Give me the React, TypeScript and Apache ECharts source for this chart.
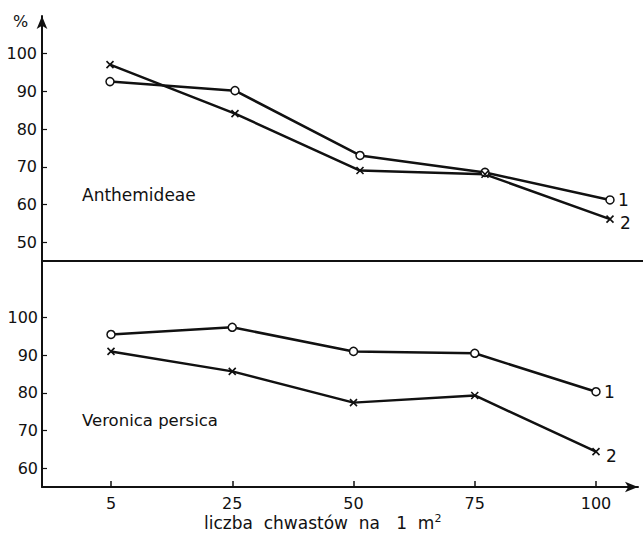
import React, { useEffect, useRef } from "react";
import * as echarts from "echarts";

const categories = ["5", "25", "50", "75", "100"];
const anthemideae1 = [92.6, 90.2, 73.0, 68.5, 61.2];
const anthemideae2 = [97.1, 84.1, 69.0, 68.0, 56.1];
const veronica1 = [95.5, 97.4, 91.0, 90.5, 80.3];
const veronica2 = [91.0, 85.7, 77.4, 79.3, 64.4];
const topTicks = [50, 60, 70, 80, 90, 100];
const bottomTicks = [60, 70, 80, 90, 100];

const FONT = "DejaVu Sans";
const CROSS = "path://M0,0L10,10M10,0L0,10";

export default function App() {
  const ref = useRef<HTMLDivElement>(null);
  useEffect(() => {
    if (!ref.current) return;
    const chart = echarts.init(ref.current, null, { renderer: "svg" });
    const axisLine = { lineStyle: { color: "#111", width: 2 } };
    const lbl = { color: "#111", fontSize: 16, fontFamily: FONT };
    const circleSeries = (data: number[], xi: number, yi: number, name: string) => ({
      type: "line",
      xAxisIndex: xi,
      yAxisIndex: yi,
      data,
      symbol: "circle",
      symbolSize: 8,
      lineStyle: { color: "#111", width: 2.5 },
      itemStyle: { color: "#fff", borderColor: "#111", borderWidth: 1.5 },
      endLabel: { show: true, formatter: name, color: "#111", fontSize: 17, fontFamily: FONT, distance: 8 },
      z: 3,
    });
    const crossSeries = (data: number[], xi: number, yi: number, name: string) => ({
      type: "line",
      xAxisIndex: xi,
      yAxisIndex: yi,
      data,
      symbol: CROSS,
      symbolSize: 7,
      lineStyle: { color: "#111", width: 2.5 },
      itemStyle: { color: "#111", borderColor: "#111", borderWidth: 1.6 },
      endLabel: { show: true, formatter: name, color: "#111", fontSize: 17, fontFamily: FONT, distance: 10, offset: [0, 4] },
      z: 3,
    });
    chart.setOption({
      animation: false,
      backgroundColor: "#fff",
      grid: [
        { left: 42, top: 16, right: 0, height: 245, outerBoundsMode: "none" },
        { left: 42, top: 261, width: 596, height: 226, outerBoundsMode: "none" },
        { left: 110, top: 16, width: 500, height: 245, outerBoundsMode: "none" },
        { left: 111, top: 261, width: 485, height: 226, outerBoundsMode: "none" },
      ],
      xAxis: [
        { gridIndex: 0, type: "value", min: 0, max: 1, axisLine: axisLine, axisTick: { show: false }, axisLabel: { show: false }, splitLine: { show: false } },
        { gridIndex: 1, type: "value", min: 0, max: 1, axisLine: { ...axisLine, symbol: ["none", "arrow"], symbolSize: [8, 13] }, axisTick: { show: false }, axisLabel: { show: false }, splitLine: { show: false } },
        { gridIndex: 2, type: "category", data: categories, boundaryGap: false, show: false },
        {
          gridIndex: 3, type: "category", data: categories, boundaryGap: false,
          axisLine: { show: false },
          axisTick: { show: true, inside: true, length: 6, alignWithLabel: true, lineStyle: { color: "#111", width: 1.5 } },
          axisLabel: { ...lbl, margin: 8 },
        },
      ],
      yAxis: [
        {
          gridIndex: 0, type: "value", min: 45, max: 110,
          axisLine: { show: true, ...axisLine, symbol: ["none", "arrow"], symbolSize: [8, 13] },
          axisTick: { show: true, inside: true, length: 5, customValues: topTicks, lineStyle: { color: "#111", width: 1.2 } },
          axisLabel: { ...lbl, margin: 5, customValues: topTicks },
          splitLine: { show: false },
        },
        {
          gridIndex: 1, type: "value", min: 55, max: 115,
          axisLine: { show: true, ...axisLine },
          axisTick: { show: true, inside: true, length: 5, customValues: bottomTicks, lineStyle: { color: "#111", width: 1.2 } },
          axisLabel: { ...lbl, margin: 4, customValues: bottomTicks },
          splitLine: { show: false },
        },
        { gridIndex: 2, type: "value", min: 45, max: 110, show: false, splitLine: { show: false } },
        { gridIndex: 3, type: "value", min: 55, max: 115, show: false, splitLine: { show: false } },
      ],
      series: [
        circleSeries(anthemideae1, 2, 2, "1"),
        crossSeries(anthemideae2, 2, 2, "2"),
        circleSeries(veronica1, 3, 3, "1"),
        crossSeries(veronica2, 3, 3, "2"),
      ],
      graphic: [
        { type: "text", left: 13, top: 13, style: { text: "%", fill: "#111", font: `16px "${FONT}"` } },
        { type: "text", left: 82, top: 186, style: { text: "Anthemideae", fill: "#111", font: `17px "${FONT}"` } },
        { type: "text", left: 82, top: 412, style: { text: "Veronica persica", fill: "#111", font: `16.5px "${FONT}"` } },
        {
          type: "text", left: 204, top: 513,
          style: {
            text: "liczba  chwastów  na   1  m{sup|2}",
            fill: "#111",
            font: `17px "${FONT}"`,
            rich: { sup: { fontSize: 11, fontFamily: FONT, fill: "#111", verticalAlign: "top", padding: [0, 0, 8, 0] } },
          },
        },
      ],
    });
    return () => chart.dispose();
  }, []);
  return <div ref={ref} style={{ position: "fixed", left: 0, top: 0, width: 643, height: 533, background: "#fff" }} />;
}
